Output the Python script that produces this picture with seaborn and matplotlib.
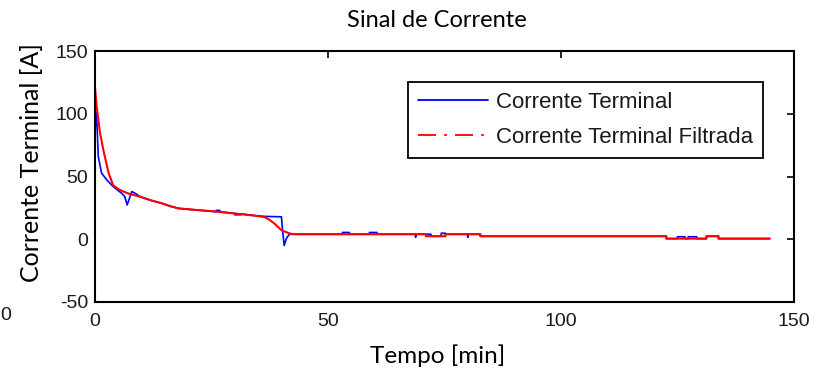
import matplotlib
matplotlib.use("Agg")
import matplotlib.pyplot as plt
from matplotlib import font_manager
from matplotlib.lines import Line2D
import seaborn as sns

# Terminal current, raw measurement: time [min] / current [A]
t_raw = [0, 0.15, 0.3, 0.5, 0.7, 1.4, 2.5, 3.9, 5.7, 6.4, 6.9, 7.9, 8.9, 9.6,
         12.0, 14.3, 16.0, 17.9, 21.8, 26.0, 26.0, 26.8, 26.8, 30.0, 30.0,
         31.3, 31.3, 34.6, 36.5, 40.0, 40.3, 40.6, 41.0, 41.3, 41.8, 42.5,
         53.1, 53.1, 54.6, 54.6, 58.9, 58.9, 60.5, 60.5, 68.7, 68.8, 68.9,
         72.1, 72.1, 74.3, 74.3, 75.2, 75.2, 79.9, 80.0, 80.1, 82.7, 82.7,
         122.6, 122.6, 125.0, 125.0, 126.6, 126.6, 127.3, 127.3, 129.1, 129.1,
         131.2, 131.2, 133.8, 133.8, 144.8]
i_raw = [115.7, 90, 101, 85, 66, 52.8, 47.4, 42, 36.7, 34, 27.3, 38, 36, 34,
         31, 28.7, 26.5, 24.6, 23.3, 22.0, 23.0, 23.0, 21.8, 20.6, 19.5,
         19.5, 20.2, 18.7, 18.2, 17.9, 5.0, -5.0, 0.0, 2.0, 4.2, 4.0,
         4.0, 5.4, 5.4, 4.0, 4.0, 5.4, 5.4, 4.0, 4.0, 1.5, 4.0,
         4.0, 2.4, 2.4, 4.8, 4.8, 4.0, 4.0, 1.5, 4.0, 4.0, 2.4,
         2.4, 0.5, 0.5, 2.0, 2.0, 0.5, 0.5, 2.0, 2.0, 0.5,
         0.5, 2.4, 2.4, 0.5, 0.5]

# Terminal current after filtering
t_filt = [0, 0.35, 1.07, 1.8, 2.9, 3.9, 5.0, 6.1, 7.5, 9.6, 12.0, 14.3, 16.0,
          17.9, 21.8, 26.1, 30.0, 34.6, 36.5, 37.5, 38.5, 40.0, 41.8, 42.5,
          71.0, 71.0, 75.2, 75.2, 82.7, 82.7, 122.6, 122.6, 131.2, 131.2,
          133.8, 133.8, 144.8]
i_filt = [121, 106, 85, 71, 53, 43, 40, 38, 36, 34, 31, 28.7, 26.5,
          24.6, 23.3, 22.0, 20.5, 18.7, 17.5, 15.3, 12.5, 7.2, 4.6, 4.0,
          4.0, 2.4, 2.4, 4.0, 4.0, 2.4, 2.4, 0.5, 0.5, 2.4,
          2.4, 0.5, 0.5]

series_labels = ["Corrente Terminal", "Corrente Terminal Filtrada"]
x_ticks = [0, 50, 100, 150]
y_ticks = [-50, 0, 50, 100, 150]
title = "Sinal de Corrente"
x_label = "Tempo [min]"
y_label = "Corrente Terminal [A]"

sns.set_style("white")
plt.rcParams["axes.unicode_minus"] = False


def has_font(name):
    try:
        font_manager.findfont(font_manager.FontProperties(family=name),
                              fallback_to_default=False)
        return True
    except Exception:
        return False


label_font = "Lato"
if has_font("Liberation Sans Narrow"):
    tick_font, tick_size = "Liberation Sans Narrow", 16.5
else:
    tick_font, tick_size = "Liberation Sans", 14
ink = "#1a1a1a"

fig = plt.figure(figsize=(8.23, 3.70), dpi=100)
W, H = 823, 370
ax = fig.add_axes([95 / W, 1 - 302 / H, (794 - 95) / W, (302 - 51) / H])

sns.lineplot(x=t_raw, y=i_raw, ax=ax, color=(0, 0, 1), lw=1.2,
             estimator=None, sort=False)
sns.lineplot(x=t_filt, y=i_filt, ax=ax, color=(1, 0, 0), lw=1.5,
             estimator=None, sort=False)

ax.set_xlim(0, 150)
ax.set_ylim(-50, 150)
ax.set_xticks(x_ticks)
ax.set_yticks(y_ticks)
ax.tick_params(direction="in", length=5, width=1.2, top=True, right=True,
               colors="black", labelcolor=ink)
ax.tick_params(axis="x", pad=8)
ax.tick_params(axis="y", pad=5)
for lab in ax.get_xticklabels() + ax.get_yticklabels():
    lab.set_fontfamily(tick_font)
    lab.set_fontsize(tick_size)
for sp in ax.spines.values():
    sp.set_color("black")
    sp.set_linewidth(1.5)

ax.set_title(title, family=label_font, fontsize=17, color="black",
             x=0.489, pad=17)
ax.set_xlabel(x_label, family=label_font, fontsize=17.5, color="black")
ax.set_ylabel(y_label, family=label_font, fontsize=18, color="black")
ax.xaxis.set_label_coords(0.49, -0.17)
ax.yaxis.set_label_coords(-0.075, 0.556)

handles = [
    Line2D([], [], color=(0, 0, 1), lw=1.3),
    Line2D([], [], color=(1, 0, 0), lw=1.3, linestyle=(0, (10, 4.5, 1.5, 4.5))),
]
leg = ax.legend(handles, series_labels, loc="upper right",
                bbox_to_anchor=(763 / W, 1 - 82 / H),
                bbox_transform=fig.transFigure,
                prop={"family": "Liberation Sans", "size": 16},
                frameon=True, fancybox=False, framealpha=1,
                edgecolor="black", borderpad=0.44, labelspacing=0.65,
                handlelength=3.15, handletextpad=0.36, borderaxespad=0)
leg.get_frame().set_linewidth(1.3)
for txt in leg.get_texts():
    txt.set_color(ink)

# tick label of a neighbouring panel, at the left border
fig.text(6 / W, 1 - 316 / H, "0", family=tick_font, fontsize=tick_size,
         color=ink, ha="center", va="center")

fig.savefig("out.png", dpi=100)
